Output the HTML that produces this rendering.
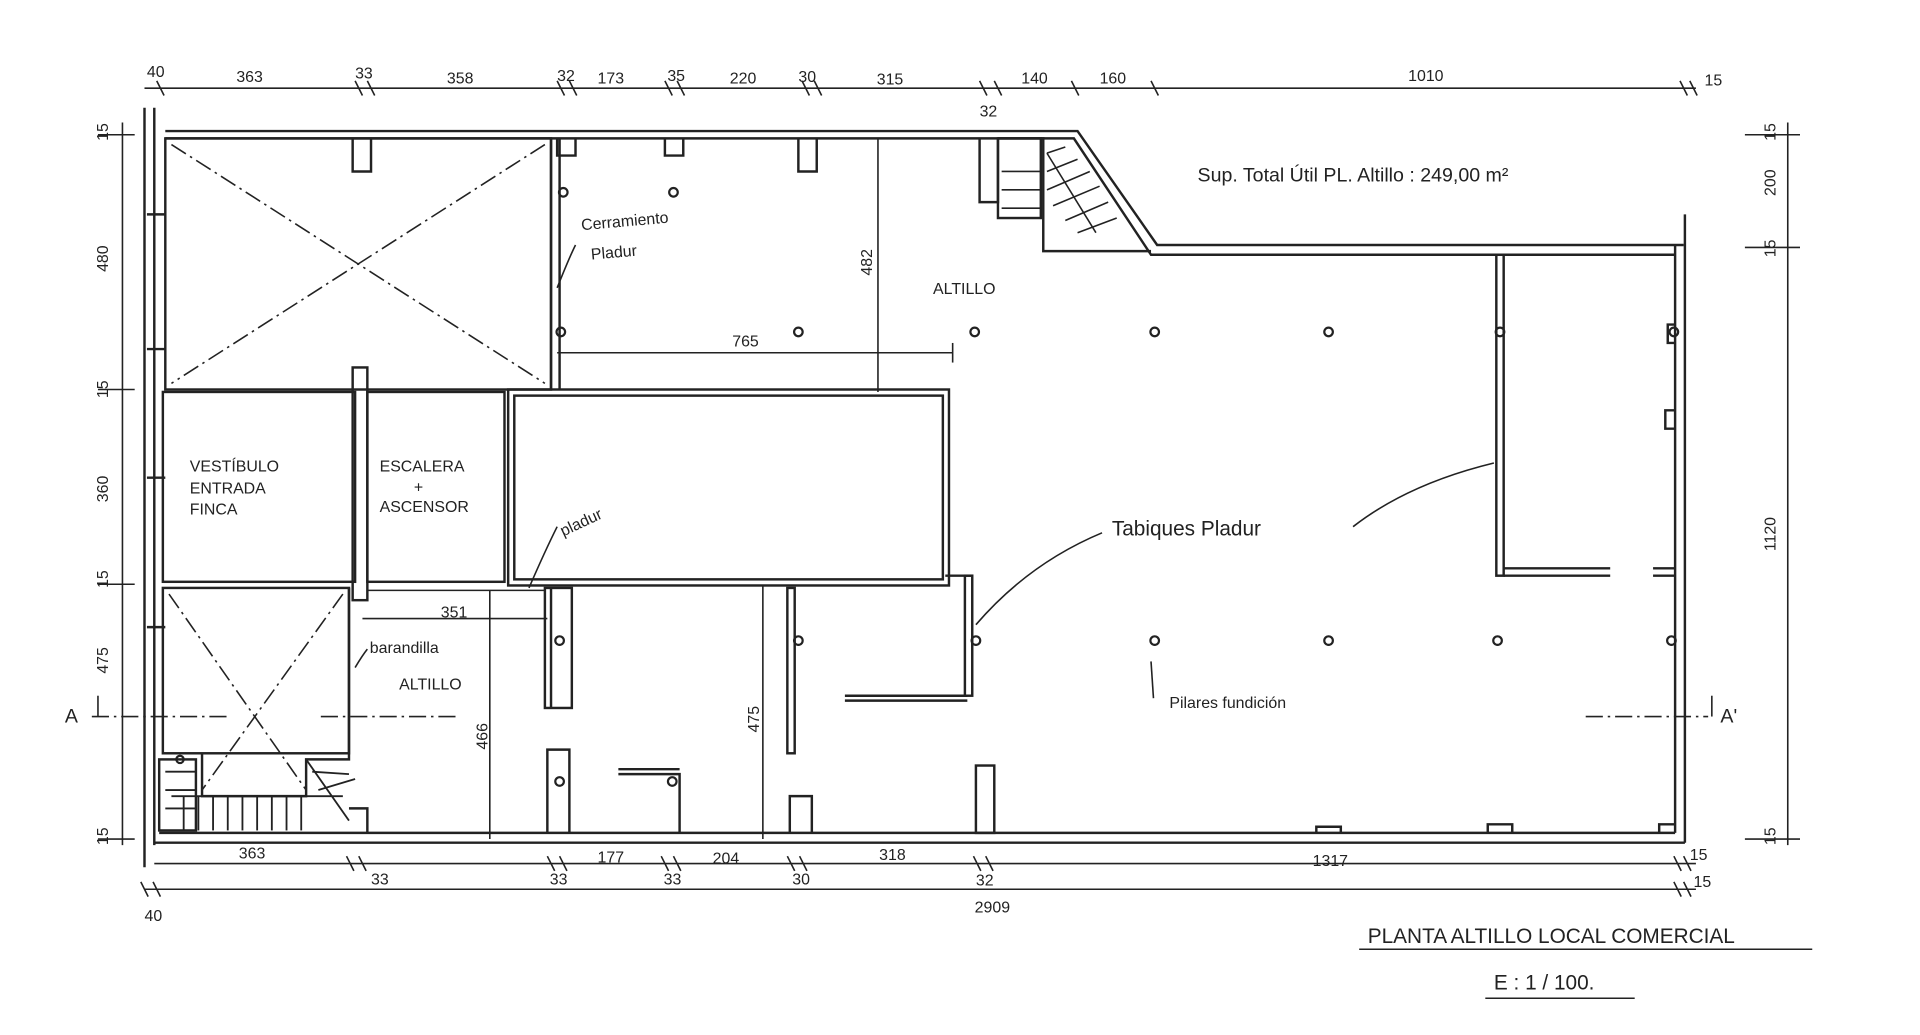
<!DOCTYPE html>
<html><head><meta charset="utf-8"><style>
html,body{margin:0;padding:0;background:#fff;}
svg{display:block;}
text{font-family:"Liberation Sans",sans-serif;fill:#222;}
</style></head><body>
<svg width="1920" height="1035" viewBox="0 0 1568 845" preserveAspectRatio="none" xmlns="http://www.w3.org/2000/svg">
<g stroke="#222" stroke-width="2" fill="none">
<!-- outer walls -->
<line x1="118" y1="88" x2="118" y2="708"/>
<line x1="126" y1="88" x2="126" y2="690"/>
<polyline points="135,107 880,107 945,200 1375,200"/>
<polyline points="135,113 877,113 940,208 1368,208"/>
<line x1="1376" y1="175" x2="1376" y2="688"/>
<line x1="1368" y1="200" x2="1368" y2="680"/>
<line x1="130" y1="680" x2="1368" y2="680"/>
<line x1="126" y1="688" x2="1376" y2="688"/>
<!-- top wall notches -->
<polyline points="288,113 288,140 303,140 303,113"/>
<polyline points="455,113 455,127 470,127 470,113"/>
<polyline points="543,113 543,127 558,127 558,113"/>
<polyline points="652,113 652,140 667,140 667,113"/>
<polyline points="800,113 800,165 815,165 815,113"/>
<!-- top-left room -->
<rect x="135" y="113" width="315" height="205"/>
<line x1="450" y1="113" x2="450" y2="318"/>
<line x1="457" y1="113" x2="457" y2="318"/>
<!-- rooms -->
<rect x="133" y="320" width="157" height="155"/>
<rect x="300" y="320" width="112" height="155"/>
<rect x="415" y="318" width="360" height="160"/>
<rect x="420" y="323" width="350" height="150"/>
<rect x="288" y="300" width="12" height="190"/>
<rect x="133" y="480" width="152" height="135"/>
<polyline points="285,480 285,620 250,620 250,650 165,650 165,615"/>
<rect x="130" y="620" width="30" height="58"/>
<!-- stairs bottom -->
<g stroke-width="1.5">
<line x1="135" y1="630" x2="160" y2="630"/><line x1="135" y1="645" x2="160" y2="645"/><line x1="135" y1="660" x2="160" y2="660"/>
<line x1="140" y1="650" x2="280" y2="650"/>
<line x1="150" y1="650" x2="150" y2="678"/><line x1="162" y1="650" x2="162" y2="678"/><line x1="174" y1="650" x2="174" y2="678"/><line x1="186" y1="650" x2="186" y2="678"/><line x1="198" y1="650" x2="198" y2="678"/><line x1="210" y1="650" x2="210" y2="678"/><line x1="222" y1="650" x2="222" y2="678"/><line x1="234" y1="650" x2="234" y2="678"/><line x1="246" y1="650" x2="246" y2="678"/>
<line x1="250" y1="620" x2="285" y2="670"/><line x1="255" y1="630" x2="285" y2="632"/><line x1="260" y1="645" x2="290" y2="636"/>
</g>
<polyline points="285,660 300,660 300,680"/>
<!-- X lines dash-dot -->
<g stroke-dasharray="14,4,2,4" stroke-width="1.3">
<line x1="140" y1="118" x2="445" y2="313"/><line x1="445" y1="118" x2="140" y2="313"/>
<line x1="138" y1="485" x2="250" y2="645"/><line x1="280" y1="485" x2="165" y2="645"/>
<line x1="75" y1="585" x2="185" y2="585"/><line x1="262" y1="585" x2="375" y2="585"/>
<line x1="1295" y1="585" x2="1395" y2="585"/>
</g>
<!-- stairs top -->
<polyline points="815,113 852,113 852,205 940,205"/>
<rect x="815" y="113" width="35" height="65"/>
<g stroke-width="1.3">
<line x1="855" y1="125" x2="870" y2="120"/><line x1="855" y1="140" x2="880" y2="130"/><line x1="855" y1="155" x2="890" y2="140"/><line x1="860" y1="168" x2="898" y2="152"/><line x1="870" y1="180" x2="905" y2="165"/><line x1="880" y1="190" x2="912" y2="178"/>
<line x1="855" y1="125" x2="895" y2="190"/>
<line x1="818" y1="140" x2="850" y2="140"/><line x1="818" y1="155" x2="850" y2="155"/><line x1="818" y1="170" x2="850" y2="170"/>
</g>
<!-- partitions -->
<rect x="1222" y="208" width="6" height="262"/>
<line x1="1228" y1="470" x2="1315" y2="470"/><line x1="1228" y1="464" x2="1315" y2="464"/>
<line x1="1350" y1="464" x2="1368" y2="464"/><line x1="1350" y1="470" x2="1368" y2="470"/>
<polyline points="1368,335 1360,335 1360,350 1368,350"/>
<polyline points="1368,265 1362,265 1362,280 1368,280"/>
<rect x="445" y="480" width="22" height="98"/>
<line x1="450" y1="480" x2="450" y2="578"/>
<rect x="643" y="480" width="6" height="135"/>
<rect x="788" y="470" width="6" height="98"/>
<line x1="772" y1="470" x2="794" y2="470"/>
<line x1="690" y1="572" x2="790" y2="572"/><line x1="690" y1="568" x2="790" y2="568"/>
<rect x="797" y="625" width="15" height="55"/>
<polyline points="447,680 447,612 465,612 465,680"/>
<polyline points="505,632 555,632 555,680"/><line x1="505" y1="628" x2="555" y2="628"/>
<polyline points="645,680 645,650 663,650 663,680"/>
<polyline points="1075,680 1075,675 1095,675 1095,680"/>
<polyline points="1215,680 1215,673 1235,673 1235,680"/>
<polyline points="1355,680 1355,673 1368,673"/>
<line x1="120" y1="175" x2="135" y2="175"/><line x1="120" y1="285" x2="135" y2="285"/>
<line x1="120" y1="390" x2="135" y2="390"/><line x1="120" y1="512" x2="135" y2="512"/>
<!-- pillars -->
<g stroke-width="1.8">
<circle cx="460" cy="157" r="3.5"/><circle cx="550" cy="157" r="3.5"/>
<circle cx="458" cy="271" r="3.5"/><circle cx="652" cy="271" r="3.5"/><circle cx="796" cy="271" r="3.5"/><circle cx="943" cy="271" r="3.5"/><circle cx="1085" cy="271" r="3.5"/><circle cx="1225" cy="271" r="3.5"/><circle cx="1367" cy="271" r="3.5"/>
<circle cx="457" cy="523" r="3.5"/><circle cx="652" cy="523" r="3.5"/><circle cx="797" cy="523" r="3.5"/><circle cx="943" cy="523" r="3.5"/><circle cx="1085" cy="523" r="3.5"/><circle cx="1223" cy="523" r="3.5"/><circle cx="1365" cy="523" r="3.5"/>
<circle cx="457" cy="638" r="3.5"/><circle cx="549" cy="638" r="3.5"/><circle cx="147" cy="620" r="3"/>
</g>
<!-- interior dims -->
<g stroke-width="1.3">
<line x1="455" y1="288" x2="778" y2="288"/><line x1="778" y1="280" x2="778" y2="296"/>
<line x1="717" y1="113" x2="717" y2="320"/>
<line x1="296" y1="505" x2="447" y2="505"/>
<line x1="400" y1="482" x2="400" y2="685"/>
<line x1="623" y1="478" x2="623" y2="685"/>
<line x1="300" y1="482" x2="445" y2="482"/>
<path d="M455 235 Q465 210 470 200"/>
<path d="M432 480 Q445 450 455 430"/>
<path d="M290 545 Q296 535 300 530"/>
<path d="M797 510 Q840 460 900 435"/>
<path d="M1105 430 Q1150 395 1220 378"/>
<line x1="940" y1="540" x2="942" y2="570"/>
</g>
<!-- exterior dimension lines -->
<g stroke-width="1.3">
<line x1="118" y1="72" x2="1385" y2="72"/>
<line x1="100" y1="100" x2="100" y2="690"/>
<line x1="1460" y1="100" x2="1460" y2="690"/>
<line x1="126" y1="705" x2="1385" y2="705"/>
<line x1="118" y1="726" x2="1385" y2="726"/>
<line x1="1110" y1="775" x2="1480" y2="775"/>
<line x1="1213" y1="815" x2="1335" y2="815"/>
<line x1="1425" y1="110" x2="1470" y2="110"/><line x1="1425" y1="202" x2="1470" y2="202"/><line x1="1425" y1="685" x2="1470" y2="685"/>
<line x1="80" y1="110" x2="110" y2="110"/><line x1="80" y1="318" x2="110" y2="318"/><line x1="80" y1="477" x2="110" y2="477"/><line x1="80" y1="685" x2="110" y2="685"/>
<line x1="80" y1="585" x2="80" y2="568"/><line x1="1398" y1="585" x2="1398" y2="568"/>
<path d="M128 66 l6 12 M290 66 l6 12 M300 66 l6 12 M455 66 l6 12 M465 66 l6 12 M543 66 l6 12 M553 66 l6 12 M655 66 l6 12 M665 66 l6 12 M800 66 l6 12 M812 66 l6 12 M875 66 l6 12 M940 66 l6 12 M1372 66 l6 12 M1380 66 l6 12"/>
<path d="M283 699 l6 12 M293 699 l6 12 M447 699 l6 12 M457 699 l6 12 M540 699 l6 12 M550 699 l6 12 M643 699 l6 12 M653 699 l6 12 M795 699 l6 12 M805 699 l6 12 M1367 699 l6 12 M1375 699 l6 12 M115 720 l6 12 M125 720 l6 12 M1367 720 l6 12 M1375 720 l6 12"/>
</g>
</g>
<g font-size="13">
<text x="120" y="63">40</text><text x="193" y="67">363</text><text x="290" y="64">33</text><text x="365" y="68">358</text><text x="455" y="66">32</text><text x="488" y="68">173</text><text x="545" y="66">35</text><text x="596" y="68">220</text><text x="652" y="67">30</text><text x="716" y="69">315</text><text x="800" y="95">32</text><text x="834" y="68">140</text><text x="898" y="68">160</text><text x="1150" y="66">1010</text><text x="1392" y="70">15</text>
<text x="195" y="701">363</text><text x="303" y="722">33</text><text x="449" y="722">33</text><text x="488" y="704">177</text><text x="542" y="722">33</text><text x="582" y="705">204</text><text x="647" y="722">30</text><text x="718" y="702">318</text><text x="797" y="723">32</text><text x="1072" y="707">1317</text><text x="1380" y="702">15</text><text x="1383" y="724">15</text><text x="118" y="752">40</text><text x="796" y="745">2909</text>
<text x="598" y="283">765</text><text x="360" y="504">351</text>
<text transform="translate(88,222) rotate(-90)">480</text><text transform="translate(88,410) rotate(-90)">360</text><text transform="translate(88,550) rotate(-90)">475</text><text transform="translate(88,115) rotate(-90)">15</text><text transform="translate(88,325) rotate(-90)">15</text><text transform="translate(88,480) rotate(-90)">15</text><text transform="translate(88,690) rotate(-90)">15</text>
<text transform="translate(1450,160) rotate(-90)">200</text><text transform="translate(1450,450) rotate(-90)">1120</text><text transform="translate(1450,115) rotate(-90)">15</text><text transform="translate(1450,210) rotate(-90)">15</text><text transform="translate(1450,690) rotate(-90)">15</text>
<text transform="translate(712,225) rotate(-90)">482</text><text transform="translate(398,612) rotate(-90)">466</text><text transform="translate(620,598) rotate(-90)">475</text>
<text x="155" y="385">VESTÍBULO</text><text x="155" y="403">ENTRADA</text><text x="155" y="420">FINCA</text>
<text x="310" y="385">ESCALERA</text><text x="338" y="402">+</text><text x="310" y="418">ASCENSOR</text>
<text x="762" y="240">ALTILLO</text><text x="326" y="563">ALTILLO</text>
<text x="302" y="533">barandilla</text>
<text x="475" y="188" transform="rotate(-5 475 188)">Cerramiento</text><text x="483" y="212" transform="rotate(-5 483 212)">Pladur</text>
<text x="460" y="438" transform="rotate(-25 460 438)">pladur</text>
<text x="955" y="578">Pilares fundición</text>
<text x="53" y="590" font-size="16">A</text><text x="1405" y="590" font-size="16">A'</text>
</g>
<text x="908" y="437" font-size="17">Tabiques Pladur</text>
<text x="978" y="148" font-size="16">Sup. Total Útil  PL. Altillo : 249,00 m²</text>
<text x="1117" y="770" font-size="17">PLANTA ALTILLO LOCAL COMERCIAL</text>
<text x="1220" y="808" font-size="17">E : 1 / 100.</text>
</svg>
</body></html>
